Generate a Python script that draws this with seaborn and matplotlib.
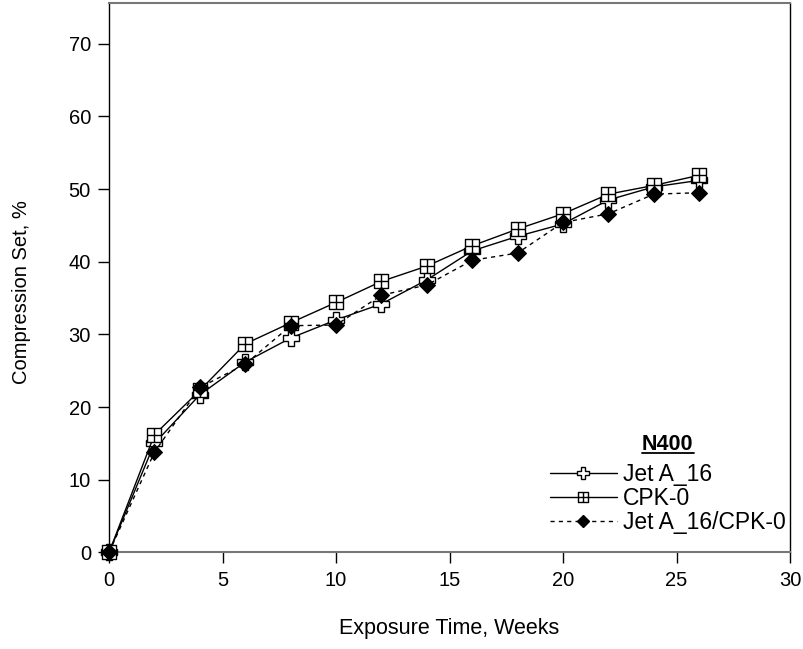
import matplotlib
matplotlib.use("Agg")
import matplotlib.pyplot as plt
from matplotlib.path import Path
from matplotlib.lines import Line2D
import seaborn as sns
import pandas as pd

weeks = [0, 2, 4, 6, 8, 10, 12, 14, 16, 18, 20, 22, 24, 26]
jet_a16 = [0, 15.0, 21.7, 26.2, 29.5, 32.0, 34.2, 37.5, 41.5, 43.5, 45.2, 48.5, 50.3, 51.2]
cpk0 = [0, 16.2, 22.3, 28.7, 31.6, 34.4, 37.3, 39.4, 42.2, 44.5, 46.6, 49.3, 50.5, 51.9]
blend = [0, 13.8, 22.7, 25.9, 31.2, 31.3, 35.4, 36.8, 40.2, 41.2, 45.4, 46.6, 49.3, 49.5]
labels = ["Jet A_16", "CPK-0", "Jet A_16/CPK-0"]

sns.set_style("ticks")
plt.rcParams['font.family'] = ['Liberation Sans', 'DejaVu Sans']
plt.rcParams['text.color'] = 'black'
plt.rcParams['axes.labelcolor'] = 'black'
plt.rcParams['xtick.color'] = 'black'
plt.rcParams['ytick.color'] = 'black'

# square with a cross inside
box_plus = Path(
    [(-1, -1), (1, -1), (1, 1), (-1, 1), (-1, -1),
     (0, -1), (0, 1), (-1, 0), (1, 0)],
    [Path.MOVETO, Path.LINETO, Path.LINETO, Path.LINETO, Path.CLOSEPOLY,
     Path.MOVETO, Path.LINETO, Path.MOVETO, Path.LINETO])

fig = plt.figure(figsize=(8.04, 6.49), dpi=100)
ax = fig.add_axes([0.1356, 0.1487, 0.847, 0.8467])

df = pd.DataFrame({"week": weeks, "jet": jet_a16, "cpk": cpk0, "blend": blend})

sns.lineplot(data=df, x="week", y="jet", ax=ax, color="black", lw=1,
             marker="P", markersize=11, markerfacecolor="white",
             markeredgecolor="black", markeredgewidth=1, legend=False,
             clip_on=False, zorder=3)
sns.lineplot(data=df, x="week", y="cpk", ax=ax, color="black", lw=1,
             marker=box_plus, markersize=9.5, markerfacecolor="white",
             markeredgecolor="black", markeredgewidth=1, legend=False,
             clip_on=False, zorder=3)
sns.lineplot(data=df, x="week", y="blend", ax=ax, color="black", lw=1,
             linestyle=(0, (3, 3)), marker="D", markersize=8,
             markerfacecolor="black", markeredgecolor="black", legend=False,
             clip_on=False, zorder=3)

ax.set_xlim(0, 30)
ax.set_ylim(0, 75.6)
ax.set_xticks(range(0, 31, 5))
ax.set_yticks(range(0, 71, 10))
ax.tick_params(labelsize=14.5, length=8, width=1, pad=5)
ax.set_xlabel("Exposure Time, Weeks", fontsize=15.5)
ax.set_ylabel("Compression Set, %", fontsize=14.5)
ax.xaxis.set_label_coords(0.5, -0.12)
ax.yaxis.set_label_coords(-0.114, 0.474)

for side in ["left", "right"]:
    ax.spines[side].set_visible(True)
    ax.spines[side].set_color("black")
    ax.spines[side].set_linewidth(1)
for side in ["top", "bottom"]:
    ax.spines[side].set_visible(True)
    ax.spines[side].set_color("#777777")
    ax.spines[side].set_linewidth(1.5)

handles = [
    Line2D([], [], color="black", lw=1, marker="P", markersize=8,
           markerfacecolor="white", markeredgecolor="black"),
    Line2D([], [], color="black", lw=1, marker=box_plus, markersize=7,
           markerfacecolor="white", markeredgecolor="black"),
    Line2D([], [], color="black", lw=1, linestyle=(0, (3, 3)), marker="D",
           markersize=6.5, markerfacecolor="black", markeredgecolor="black"),
]
leg = ax.legend(handles, labels, loc="lower right", frameon=False, fontsize=16.5,
                title="N400", handlelength=2.9, labelspacing=0.05,
                handletextpad=0.26, borderaxespad=0, borderpad=0.2,
                bbox_to_anchor=(1.0, 0.025))
leg.get_title().set_fontweight("bold")
leg.get_title().set_fontsize(15.5)
leg._legend_box.sep = 6

# underline the legend title
fig.canvas.draw()
bb = leg.get_title().get_window_extent().transformed(fig.transFigure.inverted())
fig.add_artist(Line2D([bb.x0, bb.x1], [bb.y0 + 0.002, bb.y0 + 0.002],
                      transform=fig.transFigure, color="black", lw=1.3))

fig.savefig("out.png", dpi=100)
